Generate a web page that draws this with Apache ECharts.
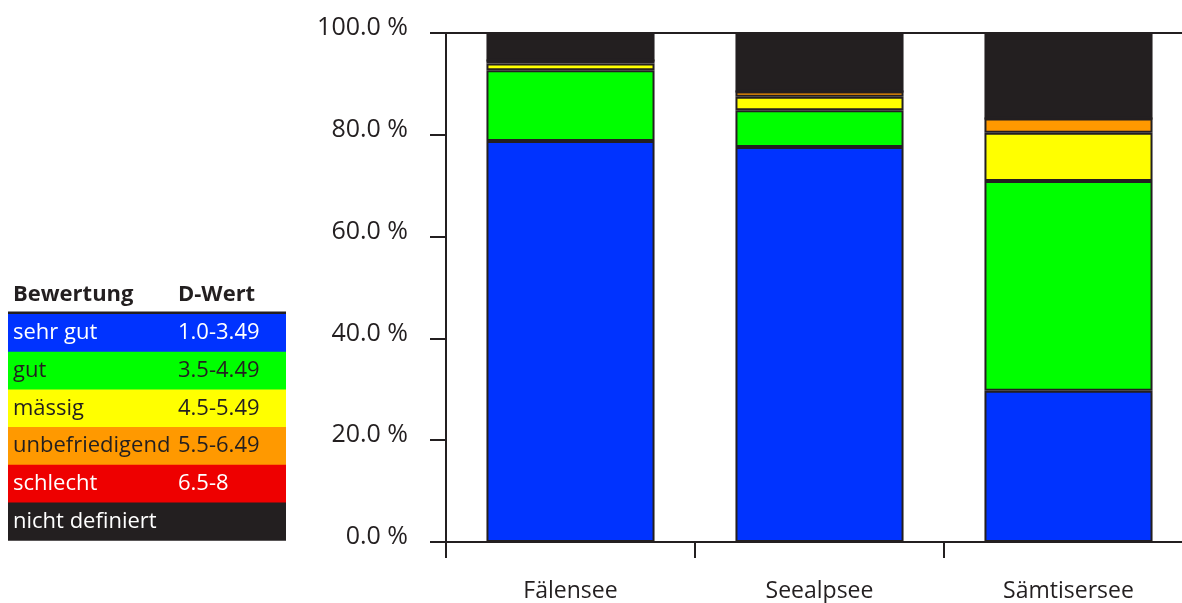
<!DOCTYPE html>
<html>
<head>
<meta charset="utf-8">
<script src="https://cdn.jsdelivr.net/npm/echarts@6/dist/echarts.min.js"></script>
<style>
html,body{margin:0;padding:0;background:#fff;}
#chart{width:1182px;height:603px;}
</style>
</head>
<body>
<div id="chart"></div>
<script>
var categories = ['Fälensee', 'Seealpsee', 'Sämtisersee'];
var ratingNames = ['sehr gut', 'gut', 'mässig', 'unbefriedigend', 'schlecht', 'nicht definiert'];
var dValues = ['1.0-3.49', '3.5-4.49', '4.5-5.49', '5.5-6.49', '6.5-8', ''];
var sehrGut = [78.8, 77.6, 29.7];
var gut = [13.9, 7.2, 41.2];
var maessig = [1.3, 2.7, 9.5];
var unbefriedigend = [0.6, 1.0, 2.8];
var schlecht = [0, 0, 0];
var nichtDefiniert = [5.4, 11.5, 16.8];
var yTicks = [0, 20, 40, 60, 80, 100];

var colors = ['#0033ff', '#00ff00', '#ffff00', '#ff9900', '#ee0000', '#231f20'];
var textColors = ['#ffffff', '#231f20', '#231f20', '#231f20', '#ffffff', '#ffffff'];
var seriesData = [sehrGut, gut, maessig, unbefriedigend, schlecht, nichtDefiniert];
var FONT = '"Open Sans", "Noto Sans", sans-serif';
var INK = '#231f20';

var series = ratingNames.map(function (name, i) {
  return {
    name: name,
    type: 'bar',
    stack: 'total',
    barWidth: '67.5%',
    data: seriesData[i],
    itemStyle: { color: colors[i], borderColor: INK, borderWidth: 2 },
    silent: true
  };
});

// legend table as graphic
var graphics = [];
var tLeft = 8, tWidth = 278, rowTop = 314, rowH = 37.7, col2 = 178;
graphics.push({ type: 'text', x: 13, y: 295, style: { text: 'Bewertung', font: 'bold 22px ' + FONT, fill: INK, verticalAlign: 'middle' } });
graphics.push({ type: 'text', x: col2, y: 295, style: { text: 'D-Wert', font: 'bold 22px ' + FONT, fill: INK, verticalAlign: 'middle' } });
graphics.push({ type: 'rect', shape: { x: tLeft, y: 311.5, width: tWidth, height: 2.5 }, style: { fill: INK } });
ratingNames.forEach(function (n, i) {
  var y = rowTop + i * rowH;
  graphics.push({ type: 'rect', shape: { x: tLeft, y: y, width: tWidth, height: rowH + 0.5 }, style: { fill: colors[i] } });
  graphics.push({ type: 'text', x: 13, y: y + rowH / 2, style: { text: n, font: '22px ' + FONT, fill: textColors[i], verticalAlign: 'middle' } });
  if (dValues[i]) {
    graphics.push({ type: 'text', x: col2, y: y + rowH / 2, style: { text: dValues[i], font: '22px ' + FONT, fill: textColors[i], verticalAlign: 'middle' } });
  }
});

var chart = echarts.init(document.getElementById('chart'));
chart.setOption({
  animation: false,
  backgroundColor: '#ffffff',
  grid: { left: 446, top: 33, width: 747, height: 509, containLabel: false, outerBoundsMode: 'none' },
  xAxis: [{
    type: 'category',
    data: categories,
    axisLine: { show: true, lineStyle: { color: INK, width: 2 } },
    axisTick: { show: true, alignWithLabel: false, length: 16, lineStyle: { color: INK, width: 2 } },
    axisLabel: { margin: 38, fontSize: 23, fontFamily: FONT, color: INK },
    splitLine: { show: false }
  }, {
    type: 'category',
    data: categories,
    position: 'top',
    axisLine: { show: true, lineStyle: { color: INK, width: 2 } },
    axisTick: { show: false },
    axisLabel: { show: false }
  }],
  yAxis: {
    type: 'value',
    min: 0,
    max: 100,
    interval: 20,
    axisLine: { show: true, lineStyle: { color: INK, width: 2 } },
    axisTick: { show: true, length: 16, lineStyle: { color: INK, width: 2 } },
    axisLabel: { margin: 38, fontSize: 25, fontFamily: FONT, color: INK, verticalAlign: 'bottom', lineHeight: 10, formatter: function (v) { return v.toFixed(1) + ' %'; } },
    splitLine: { show: false }
  },
  series: series,
  graphic: graphics
});
</script>
</body>
</html>
